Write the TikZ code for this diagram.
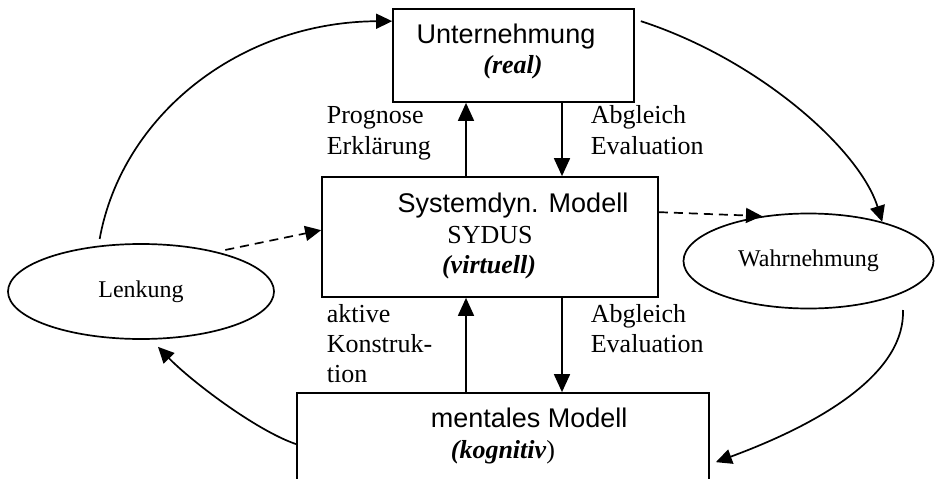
\documentclass[tikz,border=0pt]{standalone}
\usepackage{fontspec}
\setmainfont{Liberation Serif}
\newfontfamily\arialf{Liberation Sans}
\usetikzlibrary{arrows.meta,shapes.geometric}
\begin{document}
\begin{tikzpicture}[x=1pt,y=-1pt, line width=1.7pt,
 box/.style={draw, rectangle, inner sep=0pt},
 ell/.style={draw, ellipse, inner sep=0pt, font=\fontsize{24}{28}\selectfont},
 arr/.style={-{Triangle[length=18pt,width=16pt]}},
 carr/.style={-{Triangle[length=16pt,width=15pt]}},
 dsh/.style={dash pattern=on 9pt off 6pt},
 lbl/.style={anchor=base west, inner sep=0pt, font=\fontsize{26}{31}\selectfont},
 sans/.style={inner sep=0pt, anchor=base, font=\arialf\fontsize{27}{30}\selectfont},
 ser/.style={inner sep=0pt, anchor=base, font=\fontsize{26}{30}\selectfont},
]
\clip (0,0) rectangle (935,479);
\useasboundingbox (0,0) rectangle (935,479);

% boxes and ellipses
\node[box, minimum width=241pt, minimum height=93pt] (U) at (513.5,55.5) {};
\node[box, minimum width=336pt, minimum height=120pt] (S) at (490,237) {};
\node[box, minimum width=412pt, minimum height=100pt] (M) at (503,443) {};
\node[ell, minimum width=266pt, minimum height=95pt] (L) at (141,291.5) {Lenkung};
\node[ell, minimum width=250pt, minimum height=95pt] (W) at (808.5,261) {Wahrnehmung};

% box texts
\node[sans] (ut) at (506,43) {Unternehmung};
\node[ser] (ur) at (513,73) {\bfseries\itshape (real)};
\node[sans] (st) at (513,212) {Systemdyn. Modell};
\node[ser] (ss) at (490,243) {SYDUS};
\node[ser] (sv) at (489,273) {\bfseries\itshape (virtuell)};
\node[sans, anchor=base west] (mt) at (430,427) {mentales Modell};
\node[ser, anchor=base west] (mk) at (450,458) {\textbf{\textit{(kognitiv}})};

% labels
\node[lbl] (p1) at (326,123) {Prognose};
\node[lbl] (p2) at (326,154) {Erklärung};
\node[lbl] (a1) at (590,123) {Abgleich};
\node[lbl] (a2) at (590,154) {Evaluation};
\node[lbl] (k1) at (326,322) {aktive};
\node[lbl] (k2) at (326,352) {Konstruk-};
\node[lbl] (k3) at (326,382) {tion};
\node[lbl] (b1) at (590,322) {Abgleich};
\node[lbl] (b2) at (590,352) {Evaluation};

% vertical arrows
\coordinate (xa) at (466,0);
\coordinate (xb) at (562,0);
\draw[arr] (S.north -| xa) -- (U.south -| xa);
\draw[arr] (U.south -| xb) -- (S.north -| xb);
\draw[arr] (M.north -| xa) -- (S.south -| xa);
\draw[arr] (S.south -| xb) -- (M.north -| xb);

% curved arrows
\draw[carr] ([shift={(-5pt,6pt)}]L.128) .. controls (122,115) and (240,22) .. ([yshift=-13pt]U.north west);
\draw[carr] ([shift={(6pt,-13pt)}]U.north east) .. controls (760,60) and (860,150) .. (W.28);
\coordinate (w1) at (903,310);
\draw[carr] (w1) .. controls (905,370) and (830,420) .. ([shift={(6pt,-70pt)}]M.north east);
\draw[carr] ([yshift=-52pt]M.north west) .. controls (255,430) and (190,380) .. ([shift={(17pt,-7pt)}]L.south);

% dashed arrows
\draw[carr, dsh] ([yshift=4pt]L.24) -- ([yshift=-54pt]S.north west);
\draw[carr, dsh] ([yshift=-36pt]S.north east) -- (W.136);
\end{tikzpicture}
\end{document}
